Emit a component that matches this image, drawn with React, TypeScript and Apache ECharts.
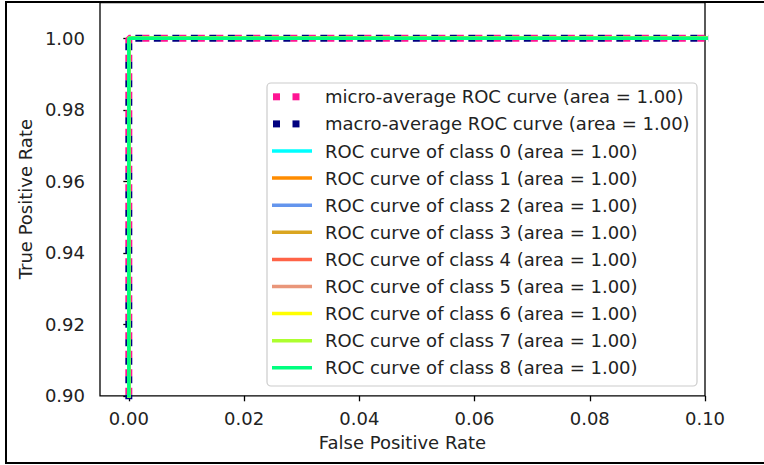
import React, { useEffect, useRef } from "react";
import * as echarts from "echarts";

// ROC operating points (false positive rate, true positive rate) per curve
const microFpr = [0, 0, 1];
const microTpr = [0, 1, 1];
const microAuc = 1.0;

const macroFpr = [0, 0, 1];
const macroTpr = [0, 1, 1];
const macroAuc = 1.0;

const classIds = [0, 1, 2, 3, 4, 5, 6, 7, 8];
const classFpr = [
  [0, 0, 1],
  [0, 0, 1],
  [0, 0, 1],
  [0, 0, 1],
  [0, 0, 1],
  [0, 0, 1],
  [0, 0, 1],
  [0, 0, 1],
  [0, 0, 1],
];
const classTpr = [
  [0, 1, 1],
  [0, 1, 1],
  [0, 1, 1],
  [0, 1, 1],
  [0, 1, 1],
  [0, 1, 1],
  [0, 1, 1],
  [0, 1, 1],
  [0, 1, 1],
];
const classAuc = [1.0, 1.0, 1.0, 1.0, 1.0, 1.0, 1.0, 1.0, 1.0];
const classColors = [
  "#00FFFF", // aqua
  "#FF8C00", // darkorange
  "#6495ED", // cornflowerblue
  "#DAA520", // goldenrod
  "#FF6347", // tomato
  "#E9967A", // darksalmon
  "#FFFF00", // yellow
  "#ADFF2F", // greenyellow
  "#00FF7F", // springgreen
];

const xTicks = [0, 0.02, 0.04, 0.06, 0.08, 0.1];
const yTicks = [0.9, 0.92, 0.94, 0.96, 0.98, 1.0];

const FONT = "DejaVu Sans";
const TEXT = "#222222";
const FS = 18;

const zip = (xs: number[], ys: number[]) => xs.map((x, i) => [x, ys[i]]);

type Entry = { name: string; color: string; dotted: boolean };

export default function App() {
  const ref = useRef<HTMLDivElement>(null);

  useEffect(() => {
    if (!ref.current) return;
    const chart = echarts.init(ref.current, null, { renderer: "svg" });

    const entries: Entry[] = [
      {
        name: `micro-average ROC curve (area = ${microAuc.toFixed(2)})`,
        color: "#FF1493",
        dotted: true,
      },
      {
        name: `macro-average ROC curve (area = ${macroAuc.toFixed(2)})`,
        color: "#000080",
        dotted: true,
      },
      ...classIds.map((c, i) => ({
        name: `ROC curve of class ${c} (area = ${classAuc[i].toFixed(2)})`,
        color: classColors[i],
        dotted: false,
      })),
    ];

    const dotted = (color: string, offset: number) => ({
      color,
      width: 7,
      type: [7, 11.5] as number[],
      dashOffset: offset,
      cap: "butt" as const,
    });

    const series: any[] = [
      {
        name: entries[0].name,
        type: "line",
        data: zip(microFpr, microTpr),
        showSymbol: false,
        symbol: "none",
        lineStyle: dotted("#FF1493", 0),
        z: 2,
      },
      {
        name: entries[1].name,
        type: "line",
        data: zip(macroFpr, macroTpr),
        showSymbol: false,
        symbol: "none",
        lineStyle: dotted("#000080", 7),
        z: 3,
      },
      ...classIds.map((c, i) => ({
        name: entries[i + 2].name,
        type: "line",
        data: zip(classFpr[i], classTpr[i]),
        showSymbol: false,
        symbol: "none",
        lineStyle: { color: classColors[i], width: 3.5 },
        z: 4 + i,
      })),
    ];

    // legend box drawn as graphics
    const lgX = 267;
    const lgY = 83;
    const lgW = 430;
    const lgH = 303;
    const rowY0 = 96.8;
    const rowStep = 27.1;
    const legendChildren: any[] = [
      {
        type: "rect",
        shape: { x: lgX, y: lgY, width: lgW, height: lgH, r: 4 },
        style: { fill: "rgba(255,255,255,0.8)", stroke: "#cccccc", lineWidth: 1.2 },
      },
    ];
    entries.forEach((e, i) => {
      const cy = rowY0 + i * rowStep;
      if (e.dotted) {
        [273, 292.5].forEach((sx) =>
          legendChildren.push({
            type: "rect",
            shape: { x: sx, y: cy - 3.5, width: 7, height: 7 },
            style: { fill: e.color },
          })
        );
      } else {
        legendChildren.push({
          type: "rect",
          shape: { x: 272, y: cy - 1.75, width: 40, height: 3.5 },
          style: { fill: e.color },
        });
      }
      legendChildren.push({
        type: "text",
        x: 325,
        y: cy,
        style: {
          text: e.name,
          fill: TEXT,
          font: `${FS}px "${FONT}"`,
          verticalAlign: "middle",
          textAlign: "left",
        },
      });
    });

    chart.setOption({
      animation: false,
      backgroundColor: "#ffffff",
      textStyle: { fontFamily: FONT },
      grid: {
        left: 100,
        right: 59,
        top: 2.5,
        bottom: 69.2,
        show: true,
        borderColor: "#000000",
        borderWidth: 1.3,
        backgroundColor: "transparent",
      },
      xAxis: {
        type: "value",
        min: -0.005,
        max: 0.1,
        name: "False Positive Rate",
        nameLocation: "middle",
        nameGap: 38,
        nameTextStyle: { fontSize: FS, color: TEXT, fontFamily: FONT },
        axisLine: { show: false },
        splitLine: { show: false },
        axisTick: {
          show: true,
          length: 5.5,
          customValues: xTicks,
          lineStyle: { color: "#000", width: 1.3 },
        },
        axisLabel: {
          customValues: xTicks,
          margin: 14,
          fontSize: FS,
          color: TEXT,
          fontFamily: FONT,
          formatter: (v: number) => v.toFixed(2),
        },
      },
      yAxis: {
        type: "value",
        min: 0.9,
        max: 1.01,
        name: "True Positive Rate",
        nameLocation: "middle",
        nameGap: 62,
        nameTextStyle: { fontSize: FS, color: TEXT, fontFamily: FONT },
        axisLine: { show: false },
        splitLine: { show: false },
        axisTick: {
          show: true,
          length: 5.5,
          customValues: yTicks,
          lineStyle: { color: "#000", width: 1.3 },
        },
        axisLabel: {
          customValues: yTicks,
          margin: 15,
          fontSize: FS,
          color: TEXT,
          fontFamily: FONT,
          formatter: (v: number) => v.toFixed(2),
        },
      },
      series,
      graphic: [
        {
          type: "rect",
          shape: { x: 6, y: 2, width: 820, height: 461 },
          style: { fill: "none", stroke: "#000000", lineWidth: 2 },
          silent: true,
          z: 100,
        },
        { type: "group", children: legendChildren, z: 50 },
      ],
    });

    return () => chart.dispose();
  }, []);

  return (
    <div
      ref={ref}
      style={{ position: "absolute", left: 0, top: 0, width: 764, height: 465 }}
    />
  );
}
